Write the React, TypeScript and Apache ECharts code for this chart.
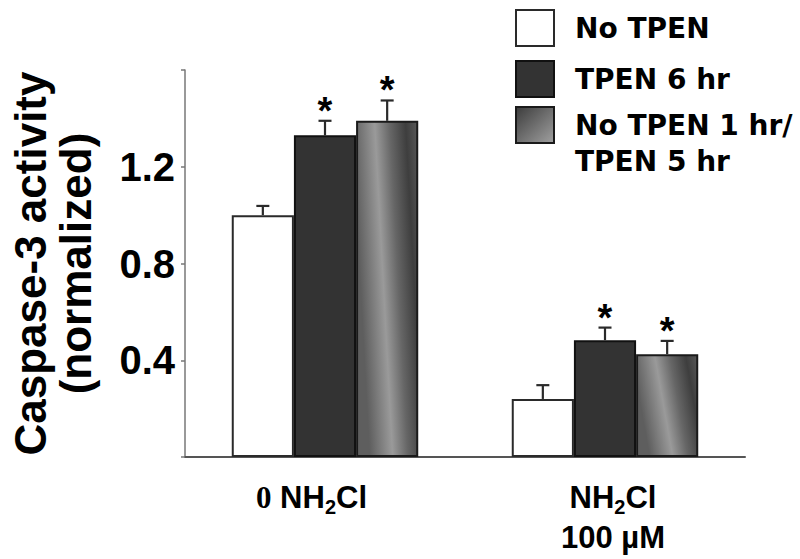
import React, { useEffect, useRef } from "react";
import * as echarts from "echarts";

// ---- data ----
const categories = ["0 NH₂Cl", "NH₂Cl\n100 µM"];
const seriesNames = ["No TPEN", "TPEN 6 hr", "No TPEN 1 hr/ TPEN 5 hr"];
const noTpen = [1.0, 0.24];
const noTpenErr = [0.038, 0.057];
const tpen6 = [1.33, 0.483];
const tpen6Err = [0.06, 0.052];
const mixed = [1.39, 0.425];
const mixedErr = [0.084, 0.055];
const noTpenSig = [false, false];
const tpen6Sig = [true, true];
const mixedSig = [true, true];
const yTickLabels = ["0.4", "0.8", "1.2"];
const Y_MIN = 0;
const Y_MAX = 1.6;
const Y_INTERVAL = 0.4;

const BAR_FRAC = 0.222;
const SANS = "'Liberation Sans', Arial, sans-serif";
const SERIF = "'Liberation Serif', 'Times New Roman', serif";
const LEGEND_FONT = "'DejaVu Sans', sans-serif";

const gradientFill = () =>
  new echarts.graphic.LinearGradient(0, 0.3, 1, 0, [
    { offset: 0, color: "#5e5e5e" },
    { offset: 0.35, color: "#9a9a9a" },
    { offset: 0.58, color: "#666666" },
    { offset: 0.82, color: "#3e3e3e" },
    { offset: 1, color: "#575757" },
  ]);

function richLabel(text: string, index: number): string {
  const lines = text.split("\n");
  const out = lines.map((line) => {
    let s = "";
    let rest = line;
    const m = rest.match(/^(\d+) /);
    if (m && index === 0) {
      s += `{z|${m[1]}}{b| }`;
      rest = rest.slice(m[0].length);
    }
    const parts = rest.split("₂");
    s += parts.map((p) => `{b|${p}}`).join("{s|2}");
    if (index === 0) s += "{p| }";
    else s = "{q| }" + s;
    return s;
  });
  return out.join("\n");
}

export default function App() {
  const ref = useRef<HTMLDivElement>(null);

  useEffect(() => {
    if (!ref.current) return;
    const chart = echarts.init(ref.current, undefined, { renderer: "svg" });

    const values = [noTpen, tpen6, mixed];
    const errs = [noTpenErr, tpen6Err, mixedErr];
    const sigs = [noTpenSig, tpen6Sig, mixedSig];
    const errData: number[][] = [];
    values.forEach((vals, si) => {
      vals.forEach((v, ci) => {
        errData.push([ci, si, v, errs[si][ci], sigs[si][ci] ? 1 : 0]);
      });
    });

    const barBase = {
      type: "bar" as const,
      barWidth: (BAR_FRAC * 100).toFixed(1) + "%",
      barGap: "0%",
      z: 2,
    };

    const legendText = {
      fontFamily: LEGEND_FONT,
      fontWeight: "bold",
      fontSize: 28,
      color: "#000",
      lineHeight: 36,
      padding: [0, 0, 0, 16],
    };

    chart.setOption({
      animation: false,
      backgroundColor: "#ffffff",
      grid: { left: 172, right: 55, top: 70, bottom: 102, containLabel: false },
      legend: [
        {
          data: [seriesNames[0], seriesNames[1]],
          orient: "vertical",
          left: 515,
          top: 9,
          padding: 0,
          itemWidth: 38,
          itemHeight: 36,
          itemGap: 13,
          icon: "rect",
          selectedMode: false,
          textStyle: legendText,
        },
        {
          data: [
            {
              name: seriesNames[2],
              itemStyle: {
                color: new echarts.graphic.LinearGradient(0, 0, 1, 1, [
                  { offset: 0, color: "#3c3c3c" },
                  { offset: 1, color: "#a0a0a0" },
                ]),
              },
            },
          ],
          orient: "vertical",
          left: 515,
          top: 71,
          padding: 0,
          itemWidth: 38,
          itemHeight: 36,
          icon: "rect",
          selectedMode: false,
          // leading empty line keeps the first text line level with the icon
          formatter: (n: string) => "\n" + n.replace("/ ", "/\n"),
          textStyle: legendText,
        },
      ],
      xAxis: {
        type: "category",
        data: categories,
        boundaryGap: true,
        axisLine: { lineStyle: { color: "#555", width: 2 } },
        axisTick: { show: false },
        axisLabel: {
          margin: 20,
          lineHeight: 40,
          color: "#000",
          formatter: (v: string, i: number) => richLabel(v, i),
          rich: {
            b: { fontFamily: SANS, fontWeight: "bold", fontSize: 31, lineHeight: 40, color: "#000" },
            z: { fontFamily: SERIF, fontWeight: "bold", fontSize: 31, lineHeight: 40, color: "#000" },
            s: {
              fontFamily: SANS,
              fontWeight: "bold",
              fontSize: 20,
              lineHeight: 14,
              verticalAlign: "bottom",
              color: "#000",
            },
            p: { width: 27 },
            q: { width: 16 },
          },
        },
        splitLine: { show: false },
      },
      yAxis: {
        type: "value",
        min: Y_MIN,
        max: Y_MAX,
        interval: Y_INTERVAL,
        name: "Caspase-3 activity\n(normalized)",
        nameLocation: "middle",
        nameRotate: 90,
        nameGap: 87,
        nameTextStyle: {
          fontFamily: SANS,
          fontWeight: "bold",
          fontSize: 44,
          lineHeight: 45,
          color: "#000",
        },
        axisLine: { show: true, lineStyle: { color: "#777", width: 1.5 } },
        axisTick: { show: true, length: 4, lineStyle: { color: "#777", width: 1.5 } },
        axisLabel: {
          margin: 10,
          fontFamily: SANS,
          fontWeight: "bold",
          fontSize: 40,
          color: "#000",
          formatter: (v: number) => {
            const s = Number(v).toFixed(1);
            return yTickLabels.includes(s) ? s : "";
          },
        },
        splitLine: { show: false },
      },
      series: [
        {
          ...barBase,
          name: seriesNames[0],
          data: noTpen,
          itemStyle: { color: "#ffffff", borderColor: "#2a2a2a", borderWidth: 2 },
        },
        {
          ...barBase,
          name: seriesNames[1],
          data: tpen6,
          itemStyle: { color: "#333333", borderColor: "#111111", borderWidth: 2 },
        },
        {
          ...barBase,
          name: seriesNames[2],
          data: mixed,
          itemStyle: { color: gradientFill(), borderColor: "#1a1a1a", borderWidth: 2 },
        },
        {
          type: "custom",
          name: "errors",
          z: 5,
          encode: { x: 0, y: 2 },
          data: errData,
          renderItem: (params: any, api: any) => {
            const ci = api.value(0);
            const si = api.value(1);
            const v = api.value(2);
            const e = api.value(3);
            const sig = api.value(4);
            const band = api.size([1, 0])[0];
            const bw = band * BAR_FRAC;
            const cx = api.coord([ci, 0])[0] + (si - 1) * bw;
            const top = api.coord([ci, v])[1];
            const cap = api.coord([ci, v + e])[1];
            const stroke = { stroke: "#2a2a2a", lineWidth: 2.2 };
            const children: any[] = [
              { type: "line", shape: { x1: cx, y1: top, x2: cx, y2: cap }, style: stroke },
              { type: "line", shape: { x1: cx - 6.5, y1: cap, x2: cx + 6.5, y2: cap }, style: stroke },
            ];
            if (sig) {
              children.push({
                type: "text",
                style: {
                  text: "*",
                  x: cx,
                  y: cap - 10,
                  align: "center",
                  verticalAlign: "middle",
                  fontFamily: SANS,
                  fontWeight: "bold",
                  fontSize: 38,
                  fill: "#000",
                },
              });
            }
            return { type: "group", children };
          },
        },
      ],
    });

    return () => chart.dispose();
  }, []);

  return (
    <div
      ref={ref}
      style={{ position: "fixed", left: 0, top: 0, width: 800, height: 559, background: "#fff" }}
    />
  );
}
